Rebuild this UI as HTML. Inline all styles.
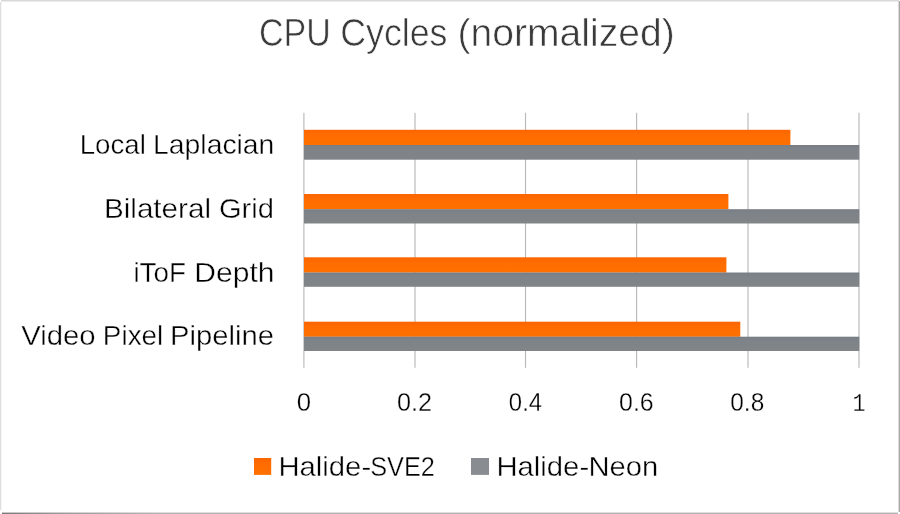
<!DOCTYPE html>
<html>
<head>
<meta charset="utf-8">
<title>CPU Cycles (normalized)</title>
<style>
  html, body { margin: 0; padding: 0; background: #ffffff; }
  body { width: 900px; height: 514px; overflow: hidden; font-family: "Liberation Sans", sans-serif; }
  svg { display: block; }
  text { font-family: "Liberation Sans", sans-serif; stroke: #ffffff; stroke-linejoin: round; }
</style>
</head>
<body>
<svg width="900" height="514" viewBox="0 0 900 514" role="img" aria-label="CPU Cycles (normalized) bar chart">
  <rect x="0" y="0" width="900" height="514" fill="#ffffff"/>
  <defs>
    <linearGradient id="og" x1="0" y1="0" x2="0" y2="1">
      <stop offset="0" stop-color="#fb6500"/>
      <stop offset="0.35" stop-color="#ff6c00"/>
      <stop offset="1" stop-color="#ff7100"/>
    </linearGradient>
    <linearGradient id="gg" x1="0" y1="0" x2="0" y2="1">
      <stop offset="0" stop-color="#787d85"/>
      <stop offset="0.25" stop-color="#7e8389"/>
      <stop offset="1" stop-color="#818588"/>
    </linearGradient>
    <linearGradient id="bb" x1="0" y1="0" x2="1" y2="0">
      <stop offset="0" stop-color="#7a7a7a"/>
      <stop offset="0.07" stop-color="#9c9c9c"/>
      <stop offset="0.18" stop-color="#b4b4b4"/>
      <stop offset="1" stop-color="#b4b4b4"/>
    </linearGradient>
    <linearGradient id="bb2" x1="0" y1="0" x2="1" y2="0">
      <stop offset="0" stop-color="#c8c8c8"/>
      <stop offset="0.18" stop-color="#dedede"/>
      <stop offset="1" stop-color="#dedede"/>
    </linearGradient>
  </defs>

  <!-- outer frame (soft 1px edges) -->
  <rect x="1" y="0" width="898" height="1" fill="#d8d8d8"/>
  <rect x="1" y="1" width="898" height="1" fill="#ebebeb"/>
  <rect x="0" y="2" width="1" height="508" fill="#dedede"/>
  <rect x="1" y="2" width="1" height="509" fill="#f6f6f6"/>
  <rect x="898" y="1" width="1" height="511" fill="#dadada"/>
  <rect x="899" y="1" width="1" height="511" fill="#a8a8a8"/>
  <rect x="2" y="512" width="896" height="1" fill="url(#bb2)"/>
  <rect x="2" y="513" width="896" height="1" fill="url(#bb)"/>

  <!-- gridlines -->
  <g fill="#b9b9b9">
    <rect x="303.32" y="112.8" width="1.15" height="255"/>
    <rect x="414.43" y="112.8" width="1.15" height="255"/>
    <rect x="524.92" y="112.8" width="1.15" height="255"/>
    <rect x="636.02" y="112.8" width="1.15" height="255"/>
    <rect x="747.42" y="112.8" width="1.15" height="255"/>
    <rect x="858.42" y="112.8" width="1.15" height="255"/>
  </g>

  <!-- bars: Halide-SVE2 (orange) -->
  <g fill="url(#og)">
    <rect x="304" y="129.8" width="486.4" height="15.3"/>
    <rect x="304" y="194"   width="424.4" height="15.3"/>
    <rect x="304" y="257.3" width="422.4" height="15.3"/>
    <rect x="304" y="321.7" width="436.3" height="15.1"/>
  </g>
  <!-- bars: Halide-Neon (gray) -->
  <g fill="url(#gg)">
    <rect x="304" y="145"   width="555.3" height="14.7"/>
    <rect x="304" y="209.2" width="555.3" height="14.3"/>
    <rect x="304" y="272.5" width="555.3" height="14.3"/>
    <rect x="304" y="336.7" width="555.3" height="14.3"/>
  </g>

  <!-- legend swatches -->
  <rect x="254" y="458" width="17.2" height="16.9" fill="url(#og)"/>
  <rect x="471" y="458" width="18" height="16.9" fill="#898d91"/>
  <!-- text: isolated blend group forces grayscale anti-aliasing (multiply over white is identity) -->
  <g style="mix-blend-mode:multiply">
    <text x="258.99" y="45.50" font-size="38.0" fill="#3a3a3a" stroke-width="0.6" textLength="71.81" lengthAdjust="spacingAndGlyphs">CPU</text>
    <text x="340.21" y="45.50" font-size="38.0" fill="#3a3a3a" stroke-width="0.6" textLength="107.25" lengthAdjust="spacingAndGlyphs">Cycles</text>
    <text x="457.49" y="45.50" font-size="38.0" fill="#3a3a3a" stroke-width="0.6" textLength="217.23" lengthAdjust="spacingAndGlyphs">(normalized)</text>
    <text x="79.73" y="153.90" font-size="28.3" fill="#000000" stroke-width="0.4" textLength="66.12" lengthAdjust="spacingAndGlyphs">Local</text>
    <text x="153.13" y="153.90" font-size="28.3" fill="#000000" stroke-width="0.4" textLength="121.23" lengthAdjust="spacingAndGlyphs">Laplacian</text>
    <text x="103.96" y="218.00" font-size="28.3" fill="#000000" stroke-width="0.4" textLength="107.08" lengthAdjust="spacingAndGlyphs">Bilateral</text>
    <text x="218.96" y="218.00" font-size="28.3" fill="#000000" stroke-width="0.4" textLength="55.01" lengthAdjust="spacingAndGlyphs">Grid</text>
    <text x="133.41" y="281.70" font-size="28.3" fill="#000000" stroke-width="0.4" textLength="52.52" lengthAdjust="spacingAndGlyphs">iToF</text>
    <text x="194.39" y="281.70" font-size="28.3" fill="#000000" stroke-width="0.4" textLength="80.16" lengthAdjust="spacingAndGlyphs">Depth</text>
    <text x="21.17" y="345.30" font-size="28.3" fill="#000000" stroke-width="0.4" textLength="74.45" lengthAdjust="spacingAndGlyphs">Video</text>
    <text x="102.85" y="345.30" font-size="28.3" fill="#000000" stroke-width="0.4" textLength="60.45" lengthAdjust="spacingAndGlyphs">Pixel</text>
    <text x="170.09" y="345.30" font-size="28.3" fill="#000000" stroke-width="0.4" textLength="103.89" lengthAdjust="spacingAndGlyphs">Pipeline</text>
    <text x="296.70" y="411.20" font-size="24.9" fill="#000000" stroke-width="0.3" textLength="14.32" lengthAdjust="spacingAndGlyphs">0</text>
    <text x="397.08" y="411.20" font-size="24.9" fill="#000000" stroke-width="0.3" textLength="35.06" lengthAdjust="spacingAndGlyphs">0.2</text>
    <text x="508.87" y="411.20" font-size="24.9" fill="#000000" stroke-width="0.3" textLength="33.23" lengthAdjust="spacingAndGlyphs">0.4</text>
    <text x="619.12" y="411.20" font-size="24.9" fill="#000000" stroke-width="0.3" textLength="34.60" lengthAdjust="spacingAndGlyphs">0.6</text>
    <text x="730.26" y="411.20" font-size="24.9" fill="#000000" stroke-width="0.3" textLength="33.98" lengthAdjust="spacingAndGlyphs">0.8</text>
    <text x="852.47" y="411.20" style="font-family:'Liberation Mono',monospace" font-size="25.0" fill="#000000" stroke-width="0.3" textLength="12.99" lengthAdjust="spacingAndGlyphs">1</text>
    <text x="278.42" y="475.50" font-size="28.3" fill="#000000" stroke-width="0.4" textLength="92.75" lengthAdjust="spacingAndGlyphs">Halide-</text>
    <text x="370.20" y="475.50" font-size="28.3" fill="#000000" stroke-width="0.4" textLength="64.74" lengthAdjust="spacingAndGlyphs">SVE2</text>
    <text x="496.42" y="475.50" font-size="28.3" fill="#000000" stroke-width="0.4" textLength="92.75" lengthAdjust="spacingAndGlyphs">Halide-</text>
    <text x="588.47" y="475.50" font-size="28.3" fill="#000000" stroke-width="0.4" textLength="69.77" lengthAdjust="spacingAndGlyphs">Neon</text>
  </g>
</svg>
</body>
</html>
